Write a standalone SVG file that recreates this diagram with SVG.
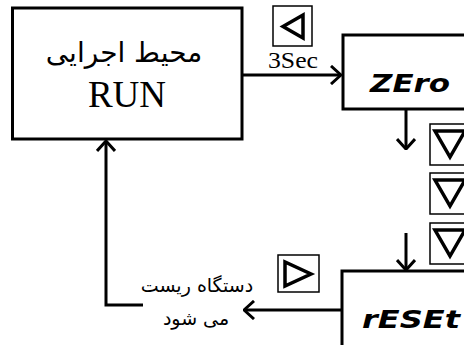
<svg xmlns="http://www.w3.org/2000/svg" width="464" height="345" viewBox="0 0 464 345">
<defs>
<style>
.box{fill:#fff;stroke:#000;stroke-width:3}
.btn{fill:#fff;stroke:#000;stroke-width:1.5}
.tri{fill:none;stroke:#000;stroke-width:3.5;stroke-linejoin:miter}
.line{fill:none;stroke:#000;stroke-width:3}
.serif{font-family:"Liberation Serif","Times New Roman",serif;fill:#000}
.ar{font-family:"DejaVu Sans","Noto Sans",sans-serif;fill:#000}
.seg{font-family:"DejaVu Sans","Liberation Sans",sans-serif;font-weight:bold;font-style:italic;fill:#000}
</style>
<marker id="arr" viewBox="0 0 12 20" refX="11" refY="10" markerWidth="12" markerHeight="20" markerUnits="userSpaceOnUse" orient="auto">
<path d="M1,1 L11,10 L1,19" fill="none" stroke="#000" stroke-width="3"/>
</marker>
</defs>
<g id="connectors">
<line class="line" x1="242" y1="75" x2="341" y2="75" marker-end="url(#arr)"/>
<line class="line" x1="406" y1="109" x2="406" y2="149" marker-end="url(#arr)"/>
<line class="line" x1="406" y1="233" x2="406" y2="270" marker-end="url(#arr)"/>
<line class="line" x1="342" y1="310" x2="244" y2="310" marker-end="url(#arr)"/>
<polyline class="line" points="143,305 106,305 106,141" marker-end="url(#arr)"/>
</g>
<g id="run">
<rect class="box" x="12.5" y="8" width="229.5" height="131"/>
<text class="ar" x="124" y="62" font-size="28" text-anchor="middle" direction="rtl">محیط اجرایی</text>
<text class="serif" x="127" y="107" font-size="37" text-anchor="middle">RUN</text>
</g>
<g id="zero">
<rect class="box" x="343" y="35" width="130" height="74"/>
<text class="seg" x="370" y="92" font-size="24" textLength="80" lengthAdjust="spacingAndGlyphs">ZEro</text>
</g>
<g id="reset">
<rect class="box" x="342" y="271" width="130" height="80"/>
<text class="seg" x="362" y="328" font-size="24" textLength="98" lengthAdjust="spacingAndGlyphs">rESEt</text>
</g>
<g id="btn-left">
<rect class="btn" x="273" y="6" width="39" height="40"/>
<polygon class="tri" points="303,15 303,38 283,26.5"/>
<text class="serif" x="293" y="68" font-size="23" text-anchor="middle" textLength="50" lengthAdjust="spacingAndGlyphs">3Sec</text>
</g>
<g id="btn-down1">
<rect class="btn" x="430" y="124" width="40" height="41"/>
<polygon class="tri" points="435,131 465,131 450,157"/>
</g>
<g id="btn-down2">
<rect class="btn" x="430" y="173" width="40" height="41"/>
<polygon class="tri" points="435,180 465,180 450,206"/>
</g>
<g id="btn-down3">
<rect class="btn" x="430" y="223" width="40" height="41"/>
<polygon class="tri" points="435,230 465,230 450,256"/>
</g>
<g id="btn-right">
<rect class="btn" x="278" y="255" width="41" height="37"/>
<polygon class="tri" points="285,262 285,286 311,274"/>
</g>
<g id="reset-label">
<text class="ar" x="197" y="292" font-size="19" text-anchor="middle" direction="rtl">دستگاه ریست</text>
<text class="ar" x="196" y="325" font-size="19" text-anchor="middle" direction="rtl">می شود</text>
</g>
</svg>
